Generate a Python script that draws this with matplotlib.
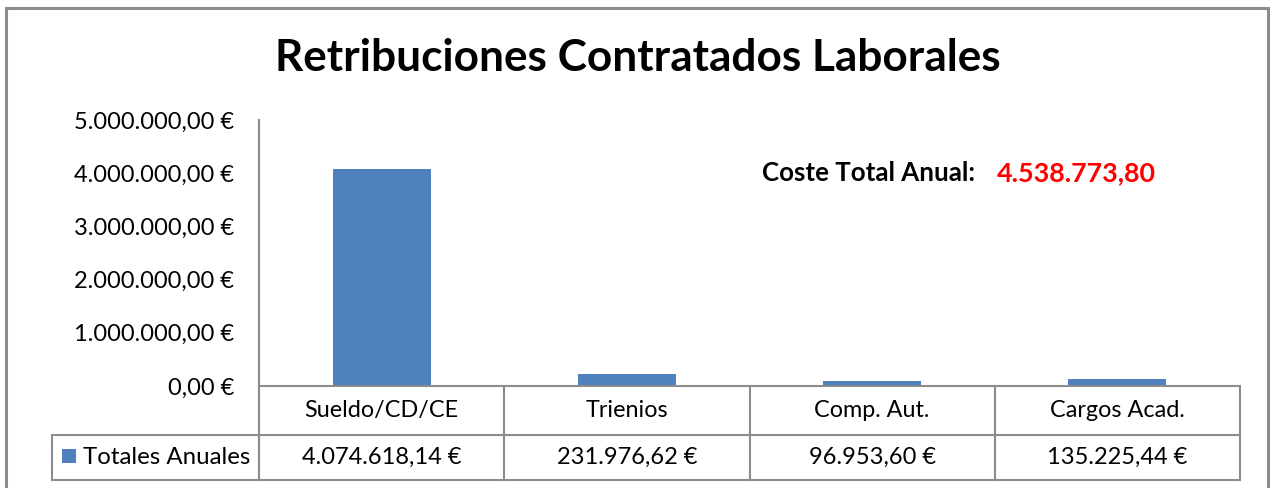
import matplotlib
matplotlib.use("Agg")
import matplotlib.pyplot as plt
from matplotlib.lines import Line2D
from matplotlib.patches import Rectangle
from matplotlib import transforms

categories = ['Sueldo/CD/CE', 'Trienios', 'Comp. Aut.', 'Cargos Acad.']
totales = [4074618.14, 231976.62, 96953.60, 135225.44]
serie_name = 'Totales Anuales'
yticks = [0, 1000000, 2000000, 3000000, 4000000, 5000000]
title = 'Retribuciones Contratados Laborales'

W, H = 1273, 488
bar_color = '#4F81BD'
grid_color = '#8C8C8C'
plt.rcParams['font.family'] = ['Lato', 'DejaVu Sans']


def euro(v, symbol=True):
    s = '{:,.2f}'.format(v).replace(',', 'X').replace('.', ',').replace('X', '.')
    return s + ' €' if symbol else s


def fx(px):
    return px / W


def fy(py):
    return 1 - py / H


fig = plt.figure(figsize=(W / 100, H / 100), dpi=100)

# outer frame
fig.add_artist(Rectangle((fx(6), fy(500)), fx(1268) - fx(6), fy(8) - fy(500),
                         fill=False, edgecolor='#8C8C8C', lw=2.2))

ax = fig.add_axes([fx(259), fy(386), fx(1240) - fx(259), fy(120) - fy(386)])
x = list(range(len(categories)))
ax.bar(x, totales, width=0.4, color=bar_color)
ax.set_xlim(-0.5, len(categories) - 0.5)
ax.set_ylim(0, 5000000)
ax.set_yticks(yticks)
ax.set_yticklabels([euro(v) for v in yticks], fontsize=17)
ax.tick_params(axis='y', length=0, pad=18)
ax.set_xticks([])
for s in ['top', 'right']:
    ax.spines[s].set_visible(False)
ax.spines['left'].set_color(grid_color)
ax.spines['left'].set_linewidth(1.5)
ax.spines['bottom'].set_color(grid_color)
ax.spines['bottom'].set_linewidth(1.5)

fig.text(fx(638), fy(58), title, ha='center', va='center', fontsize=31.8, fontweight='bold')

total = sum(totales)
fig.text(fx(975), fy(173), 'Coste Total Anual:', ha='right', va='center',
         fontsize=18.6, fontweight='bold')
fig.text(fx(997), fy(173), euro(total, symbol=False), ha='left', va='center',
         fontsize=19.4, fontweight='bold', color='red')

# data table below the axis
trans = transforms.blended_transform_factory(ax.transData, fig.transFigure)
row1, row2, row3 = 386, 435, 480
for i in range(len(categories) + 1):
    xb = i - 0.5
    ax.add_artist(Line2D([xb, xb], [fy(row1), fy(row3)], transform=trans,
                         color=grid_color, lw=1.5, clip_on=False))
for r in [row2, row3]:
    ax.add_artist(Line2D([-0.5, len(categories) - 0.5], [fy(r), fy(r)], transform=trans,
                         color=grid_color, lw=1.5, clip_on=False))
for i, (c, v) in enumerate(zip(categories, totales)):
    fig.text(i, fy((row1 + row2) / 2), c, transform=trans, ha='center', va='center', fontsize=16.8)
    fig.text(i, fy((row2 + row3) / 2), euro(v), transform=trans, ha='center', va='center', fontsize=17)

# legend cell
fig.add_artist(Rectangle((fx(52), fy(row3)), fx(259) - fx(52), fy(row2) - fy(row3),
                         fill=False, edgecolor=grid_color, lw=1.5))
fig.add_artist(Rectangle((fx(62), fy(463)), fx(76) - fx(62), fy(449) - fy(463),
                         facecolor=bar_color, edgecolor='none'))
fig.text(fx(83), fy(457), serie_name, ha='left', va='center', fontsize=17.3)

fig.savefig('out.png', dpi=100, facecolor='white')
